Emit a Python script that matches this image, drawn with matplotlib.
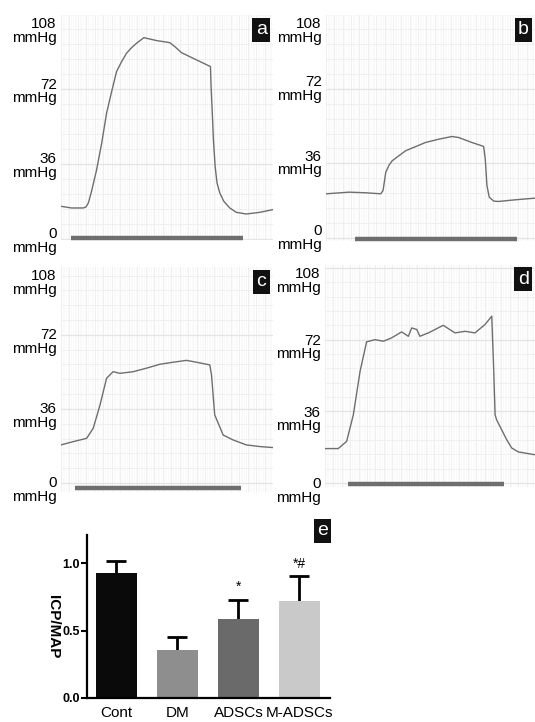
import numpy as np
import matplotlib
matplotlib.use("Agg")
import matplotlib.pyplot as plt

plt.rcParams['font.family'] = ['Liberation Sans', 'DejaVu Sans']

# pressure traces: x is fraction of recording window, y in mmHg
a_x = [0.000, 0.050, 0.105, 0.118, 0.129, 0.144, 0.168, 0.192, 0.215, 0.239, 0.262, 0.286, 0.309,
       0.333, 0.356, 0.391, 0.451, 0.513, 0.537, 0.568, 0.623, 0.705, 0.708, 0.713, 0.719, 0.727,
       0.736, 0.749, 0.768, 0.796, 0.827, 0.874, 0.937, 1.000]
a_y = [15.7, 14.9, 14.9, 15.4, 17.3, 22.9, 33.3, 46.1, 60.5, 70.9, 80.5, 85.3, 89.3,
       92.0, 94.1, 96.8, 95.4, 94.4, 92.5, 89.6, 86.9, 82.9, 73.3, 62.1, 47.7, 34.9,
       26.9, 22.1, 18.1, 14.9, 12.8, 12.0, 12.8, 14.1]

b_x = [0.000, 0.111, 0.190, 0.262, 0.273, 0.286, 0.302, 0.317, 0.381, 0.476, 0.540, 0.603, 0.635,
       0.698, 0.754, 0.762, 0.770, 0.781, 0.802, 0.825, 0.905, 1.000]
b_y = [21.3, 22.1, 21.8, 21.3, 22.9, 31.7, 35.2, 37.3, 42.1, 46.1, 47.7, 49.0, 48.5,
       46.1, 44.2, 38.1, 25.3, 19.7, 17.8, 17.6, 18.4, 19.2]

c_x = [0.000, 0.058, 0.121, 0.152, 0.184, 0.215, 0.246, 0.278, 0.341, 0.403, 0.466, 0.529, 0.592,
       0.639, 0.702, 0.710, 0.725, 0.765, 0.812, 0.874, 0.937, 1.000]
c_y = [18.5, 20.1, 21.7, 26.6, 37.9, 50.9, 54.1, 53.3, 54.1, 55.8, 57.7, 58.7, 59.6,
       58.7, 57.4, 52.5, 33.1, 23.3, 20.9, 18.5, 17.7, 17.2]

d_x = [0.000, 0.063, 0.103, 0.135, 0.167, 0.198, 0.238, 0.278, 0.317, 0.365, 0.397, 0.413, 0.437,
       0.452, 0.492, 0.524, 0.563, 0.619, 0.667, 0.714, 0.762, 0.794, 0.802, 0.810, 0.817, 0.841,
       0.865, 0.889, 0.921, 1.000]
d_y = [17.3, 17.3, 20.9, 34.3, 56.1, 70.9, 72.0, 71.2, 72.9, 75.9, 73.7, 77.9, 77.1,
       73.7, 75.4, 77.1, 79.2, 75.4, 76.2, 75.4, 79.6, 83.8, 61.0, 34.3, 31.8, 26.8,
       21.8, 17.6, 15.6, 14.2]

# stimulation bars (start, end, level)
a_bar = (0.047, 0.859, 0.5)
b_bar = (0.140, 0.916, -0.3)
c_bar = (0.066, 0.848, -2.6)
d_bar = (0.108, 0.852, -0.5)

pressure_ticks = [0, 36, 72, 108]

# ICP/MAP bar chart
groups = ["Cont", "DM", "ADSCs", "M-ADSCs"]
ratio = [0.925, 0.356, 0.587, 0.723]
ratio_err = [0.095, 0.094, 0.143, 0.183]
marks = ["", "", "*", "*#"]
bar_colors = ["#0a0a0a", "#8e8e8e", "#6a6a6a", "#c9c9c9"]

W, H = 535, 722
fig = plt.figure(figsize=(W / 100, H / 100), dpi=100)


def px_axes(x0, y0, x1, y1):
    return fig.add_axes([x0 / W, 1 - y1 / H, (x1 - x0) / W, (y1 - y0) / H])


def trace_panel(box, ylim, xs, ys, bar, letter, lab_off):
    ax = px_axes(*box)
    ax.set_xlim(0, 1)
    ax.set_ylim(*ylim)
    for v in np.arange(0, 1.0001, 1 / 125):
        ax.axvline(v, color="#f7f7f7", lw=0.5, zorder=0)
    for v in np.arange(0, 1.0001, 1 / 25):
        ax.axvline(v, color="#eeeeee", lw=0.6, zorder=0)
    for v in np.arange(0, 108.1, 7.2):
        ax.axhline(v, color="#f0f0f0", lw=0.7, zorder=0)
    for v in pressure_ticks:
        ax.axhline(v, color="#e4e4e4", lw=0.9, zorder=0)
    ax.plot(xs, ys, color="#6e6e6e", lw=1.0)
    ax.plot([bar[0], bar[1]], [bar[2], bar[2]], color="#6e6e6e", lw=3.2,
            solid_capstyle="butt", clip_on=False)
    for sp in ax.spines.values():
        sp.set_visible(False)
    ax.set_xticks([])
    ax.set_yticks([])
    for v in pressure_ticks[:-1]:
        ax.text(-0.02, v - lab_off, f"{v}\nmmHg", ha="right", va="center",
                fontsize=11, linespacing=0.95, transform=ax.get_yaxis_transform())
    ax.text(-0.02, 0.99, "108\nmmHg", ha="right", va="top", fontsize=11,
            linespacing=0.95, transform=ax.transAxes)
    ax.text(0.945, 0.935, letter, ha="center", va="center", color="white",
            fontsize=14, transform=ax.transAxes,
            bbox=dict(boxstyle="square,pad=0.18", fc="#111111", ec="none"))
    return ax


trace_panel((61, 15, 273, 240), (-0.5, 107.7), a_x, a_y, a_bar, "a", 1)
trace_panel((326, 15, 535, 241), (-1.5, 107.7), b_x, b_y, b_bar, "b", 0)
trace_panel((61, 267, 273, 492), (-4.4, 105), c_x, c_y, c_bar, "c", 3.5)
trace_panel((325, 265, 535, 487), (-2, 109.5), d_x, d_y, d_bar, "d", 4)

# panel e
ax = px_axes(87, 535, 330, 698)
pos = np.arange(len(groups))
ax.bar(pos, ratio, width=0.67, color=bar_colors, zorder=2)
eb = ax.errorbar(pos, ratio, yerr=[[0] * 4, ratio_err], fmt="none", ecolor="black",
                 elinewidth=2, capsize=7.5, capthick=2, zorder=1)
eb[1][0].set_visible(False)  # only the upper cap
for p, r, e, m in zip(pos, ratio, ratio_err, marks):
    if m:
        ax.text(p, r + e + 0.04, m, ha="center", va="bottom", fontsize=10)
ax.set_xlim(-0.48, 3.5)
ax.set_ylim(0, 1.21)
ax.set_yticks([0, 0.5, 1.0])
ax.set_yticklabels(["0.0", "0.5", "1.0"], fontweight="bold", fontsize=9)
ax.set_xticks(pos)
ax.set_xticklabels(groups, fontsize=11)
ax.tick_params(axis="x", length=0, pad=6)
ax.tick_params(axis="y", length=4, width=1.5, pad=1)
for s in ["top", "right"]:
    ax.spines[s].set_visible(False)
for s in ["left", "bottom"]:
    ax.spines[s].set_linewidth(1.6)
ax.set_ylabel("ICP/MAP", rotation=270, fontweight="bold", fontsize=11, va="center")
ax.yaxis.set_label_coords(-0.14, 0.436)
fig.text(322.5 / W, 1 - 530.5 / H, "e", ha="center", va="center", color="white",
         fontsize=14, bbox=dict(boxstyle="square,pad=0.18", fc="#111111", ec="none"))

fig.savefig("out.png", dpi=100)
